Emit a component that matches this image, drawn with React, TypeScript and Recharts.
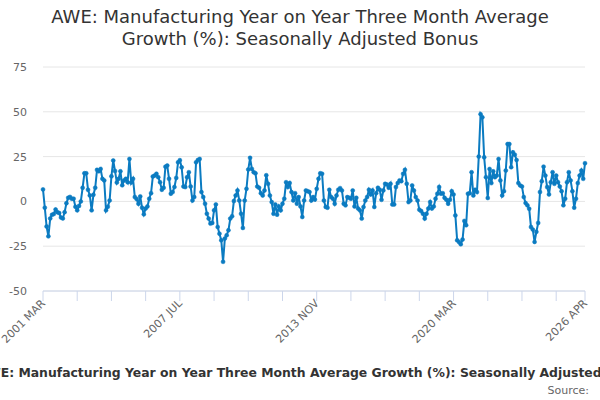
import { LineChart, Line, XAxis, YAxis, CartesianGrid } from "recharts";

const chartTitle =
  "AWE: Manufacturing Year on Year Three Month Average Growth (%): Seasonally Adjusted Bonus";
const seriesName = chartTitle;
const sourceText = "Source:";

const startYear = 2001;
const startMonth = 2; // MAR
const monthNames = ["JAN", "FEB", "MAR", "APR", "MAY", "JUN", "JUL", "AUG", "SEP", "OCT", "NOV", "DEC"];

// monthly values, 2001 MAR .. 2026 APR
const growth2001 = [
  6.7, -3.5, -14, -19.5, -9.5, -7.5, -7, -4.5, -6, -6.5, -9, -9.5, -6, -1, 2, 2.5, 1.5, 1.5, -3, -5,
  -2.5, 0, 7.6, 15.7, 15.7, 6.5, 3.3, -5, 3.7, 7.6, 17.6, 16.8, 18.1, 12.6, 11.7,
];
const growth2004 = [
  -5, -3, 0.5, 14, 22.8, 17, 10.5, 12.6, 16.8, 9, 11.7, 12.6, 10.7, 23.7, 10.5, 12.6, 2.4, 1.3, -1.3,
  2.8, -3.5, -7.2, -4, -2.8, 1.5, 4.6, 13.9, 14.4, 15.4, 13.5, 10.7, 6.5, 7.6, 19.4, 20, 12.6, 4.3, 5.2,
];
const growth2007 = [
  8, 13.1, 21.8, 23, 19, 8.3, 8, 13.5, 16.3, 8.3, 0.5, 2.4, 21.8, 23.1, 23.7, 5.2, 2.4, -1.3, -6.9,
  -9.6, -12.4, -12, -5, -1.7, -14.3, -18, -21.7, -33.7, -20.7, -18.9, -16.1, -9.6, -8.3, 0.2, 3.3, 6.1,
  0.5, -6.9,
];
const growth2010 = [
  -14.8, 0.5, 7, 17.8, 24.3, 18.1, 16.3, 15.7, 8.3, 7.6, 4.6, 3.3, 6.1, 14.6, 9.8, 3.3, -0.4, -6.9,
  -1.7, -7.4, -2.8, -5, -1.3, 1.5, 10.7, 8, 10.2, 5.2, 0.5, 4.6, -1.3, 2.4, -2.8, -8.7, 0.5, 6.1, 5.7,
  5.2,
];
const growth2013 = [
  0.5, 2.4, 1, 7, 12.6, 15.7, 15.4, 0.5, -3.1, -3.5, 6.5, 2.4, 1.5, -1.3, 3.3, 6.5, 7.4, 6.1, -1.3,
  -2.2, 2.4, 2, 1.5, 6.1, -2.8, 2, -4, -5, -9.6, -3.1, 0.5, 2.4, 6.5, 3.9, 6.1, -3.1, 4.6, 7.6,
];
const growth2016 = [
  6.5, 0.9, 6.1, 9.8, 9.4, 7.6, 9.8, -1.7, -1.7, 8, 10.2, 11.7, 11.3, 15.4, 17.6, 9.8, -0.4, 0.5, 8.9,
  6.1, 2.4, 0.5, -4.6, -5.4, -6.9, -9.6, -6.9, -4, -0.4, -4, -2.8, 1.5, 4.3, 8, 4.3, 4.6, 2, 0.9,
];
const growth2019 = [
  -1.3, 0.9, 5.7, 3.9, -7.8, -21.7, -22.6, -23.9, -21.3, -10.9, -13.3, 4.3, 4.6, 16.3, 3.3, 6.5, 5.2,
  25, 48.7, 46.9, 24.6, 13.5, 1.9, 18.1, 10.2, 16.8, 13.5, 14.4, 23.7, 11.7, 3.3, 5.7, 17.2, 32, 32,
  19.1, 27.4, 26.1,
];
const growth2023 = [
  23.1, 10.2, 8.9, 8.3, 2.4, -0.9, -2.2, -4.1, -14.3, -15.7, -22.6, -17, -12, 5.2, 11.3, 19.4, 14.4,
  8, 3.9, 10.7, 16.3, 9.8, 14.4, 10.7, 8.3, 5.7, -2.2, 1.5, 10.7, 16.3, 11.7, 5.7, -3.5, 1.5, 10.2,
  14.4, 17.2, 12.6, 21.3,
];

const growth = [
  ...growth2001,
  ...growth2004,
  ...growth2007,
  ...growth2010,
  ...growth2013,
  ...growth2016,
  ...growth2019,
  ...growth2023,
];

const tickLabels = ["2001 MAR", "2007 JUL", "2013 NOV", "2020 MAR", "2026 APR"];
const yTicks = [-50, -25, 0, 25, 50, 75];
const tickStep = 19;

const data = growth.map((v, i) => {
  const m = startMonth + i;
  return {
    idx: i,
    month: `${startYear + Math.floor(m / 12)} ${monthNames[m % 12]}`,
    value: v,
  };
});

const lastIdx = data.length - 1;
const labelAt: Record<number, string> = {};
data.forEach((d) => {
  if (tickLabels.includes(d.month)) labelAt[d.idx] = d.month;
});
const xTicks: number[] = [];
for (let i = 0; i < lastIdx - tickStep / 2; i += tickStep) xTicks.push(i);
xTicks.push(lastIdx);

const lineColor = "#0b7bc1";
const font = "'DejaVu Sans', sans-serif";

function MonthTick(props: any) {
  const { x, y, payload } = props;
  const label = labelAt[payload.value];
  if (!label) return null;
  const tx = x + 3;
  const ty = y + 1;
  return (
    <text
      x={tx}
      y={ty}
      transform={`rotate(-45 ${tx} ${ty})`}
      textAnchor="end"
      fontSize={11}
      fill="#666"
      fontFamily={font}
    >
      {label}
    </text>
  );
}

export default function App() {
  return (
    <div
      style={{
        position: "relative",
        width: 600,
        height: 400,
        overflow: "hidden",
        background: "#fff",
        fontFamily: font,
      }}
    >
      <style>{`body{margin:0}`}</style>
      <div
        style={{
          position: "absolute",
          top: 6,
          left: 0,
          width: 600,
          textAlign: "center",
          fontSize: 18,
          lineHeight: "22px",
          color: "#333",
        }}
      >
        AWE: Manufacturing Year on Year Three Month Average
        <br />
        Growth (%): Seasonally Adjusted Bonus
      </div>
      <LineChart
        width={600}
        height={400}
        data={data}
        margin={{ top: 67, right: 15, bottom: 0, left: 0 }}
      >
        <CartesianGrid vertical={false} stroke="#e6e6e6" />
        <XAxis
          dataKey="idx"
          type="number"
          domain={[0, lastIdx]}
          ticks={xTicks}
          interval={0}
          stroke="#ccd6eb"
          tickSize={10}
          tickMargin={2}
          tick={<MonthTick />}
          height={109}
        />
        <YAxis
          domain={[-50, 75]}
          ticks={yTicks}
          axisLine={false}
          tickLine={false}
          width={43}
          tickSize={0}
          tickMargin={16}
          tick={{ fontSize: 11, fill: "#666", fontFamily: font }}
        />
        <Line
          type="linear"
          dataKey="value"
          name={seriesName}
          stroke={lineColor}
          strokeWidth={2}
          dot={{ r: 2, fill: lineColor, stroke: lineColor, strokeWidth: 0.5 }}
          isAnimationActive={false}
        />
      </LineChart>
      <div
        style={{
          position: "absolute",
          top: 365,
          left: -22,
          whiteSpace: "nowrap",
          fontSize: 12.4,
          fontWeight: "bold",
          color: "#333",
        }}
      >
        {seriesName}
      </div>
      <div
        style={{
          position: "absolute",
          top: 384,
          right: 11,
          fontSize: 11,
          color: "#666",
        }}
      >
        {sourceText}
      </div>
    </div>
  );
}
